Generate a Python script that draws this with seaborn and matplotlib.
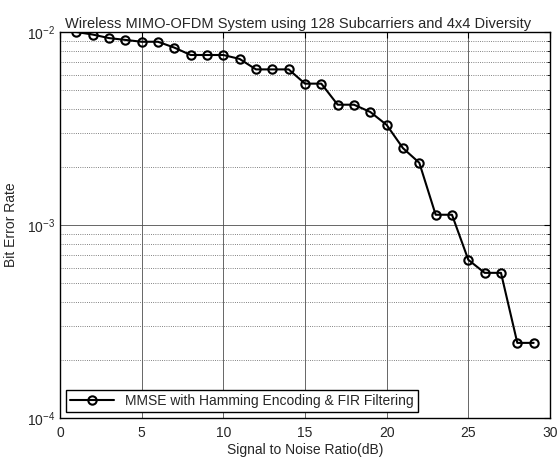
import numpy as np
import pandas as pd
import matplotlib
matplotlib.use("Agg")
import matplotlib.pyplot as plt
import matplotlib.ticker as mticker
import seaborn as sns

snr_db = list(range(1, 30))
ber = [1.0e-2, 9.7e-3, 9.3e-3, 9.1e-3, 8.9e-3, 8.9e-3, 8.3e-3, 7.6e-3, 7.6e-3, 7.6e-3,
       7.25e-3, 6.4e-3, 6.4e-3, 6.4e-3, 5.4e-3, 5.4e-3, 4.2e-3, 4.2e-3, 3.85e-3, 3.3e-3,
       2.5e-3, 2.1e-3, 1.13e-3, 1.13e-3, 6.6e-4, 5.65e-4, 5.65e-4, 2.45e-4, 2.45e-4]
series_label = "MMSE with Hamming Encoding & FIR Filtering"

sns.set_style("white")
plt.rcParams['font.family'] = ['Liberation Sans', 'DejaVu Sans']
fs = 10

df = pd.DataFrame({"snr": snr_db, "ber": ber})

fig = plt.figure(figsize=(5.57, 4.61), dpi=100)
ax = fig.add_axes([0.1077, 0.0933, 0.8797, 0.8373])

sns.lineplot(data=df, x="snr", y="ber", ax=ax, color="black", lw=1.5,
             marker="o", markersize=6, markerfacecolor="none",
             markeredgecolor="black", markeredgewidth=1.5, label=series_label)

ax.set_yscale("log")
ax.set_xlim(0, 30)
ax.set_ylim(1e-4, 1e-2)
ax.set_xticks([0, 5, 10, 15, 20, 25, 30])
ax.yaxis.set_minor_locator(mticker.LogLocator(base=10, subs=np.arange(2, 10)))
ax.yaxis.set_minor_formatter(mticker.NullFormatter())

ax.grid(which="major", axis="x", color="0.3", ls="-", lw=0.6)
ax.grid(which="major", axis="y", color="0.3", ls="-", lw=0.6)
ax.grid(which="minor", axis="y", color="0.35", ls=":", lw=0.6)
ax.set_axisbelow(True)

ax.tick_params(which="both", direction="in", top=True, right=True, labelsize=fs, color="black")
ax.tick_params(which="major", length=4)
ax.tick_params(which="minor", length=2)
ax.tick_params(axis="x", pad=6)
for s in ax.spines.values():
    s.set_color("black")
    s.set_linewidth(1.0)

ax.set_title("Wireless MIMO-OFDM System using 128 Subcarriers and 4x4 Diversity",
             fontsize=10.5, pad=3, x=0.485)
ax.set_xlabel("Signal to Noise Ratio(dB)", fontsize=fs, labelpad=2)
ax.set_ylabel("Bit Error Rate", fontsize=fs, labelpad=6)

leg = ax.legend(loc="lower left", fontsize=fs, fancybox=False, framealpha=1,
                edgecolor="black", borderaxespad=0.4, handlelength=3.2,
                borderpad=0.3)
leg.get_frame().set_linewidth(1.0)

fig.savefig("out.png", dpi=100)
